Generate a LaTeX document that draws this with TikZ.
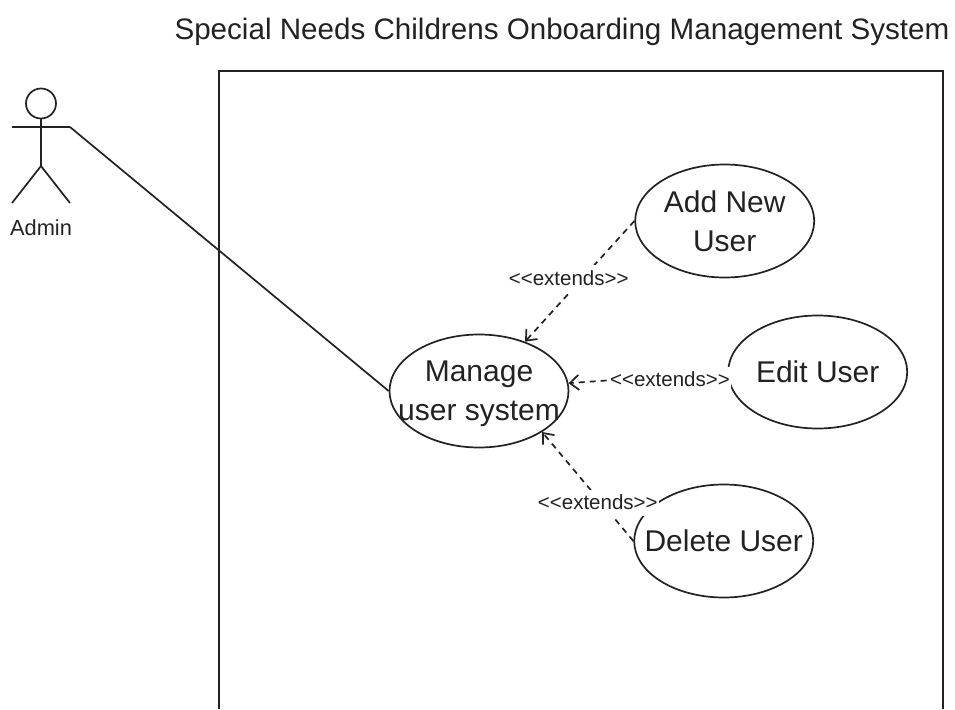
\documentclass[tikz,border=0pt]{standalone}
\usepackage{fontspec}
\setmainfont{Liberation Sans}
\usetikzlibrary{shapes.geometric, arrows.meta, positioning}
\definecolor{inkgrey}{HTML}{222222}

\begin{document}
\begin{tikzpicture}[
  x=1pt, y=-1pt,
  usecase/.style={ellipse, draw=inkgrey, line width=1.7pt, minimum width=179pt, minimum height=113pt, inner xsep=-30pt, inner ysep=0pt, text depth=0pt, font=\fontsize{30}{39}\selectfont, text=inkgrey, align=center},
  extlabel/.style={fill=white, inner sep=1pt, minimum height=26pt, font=\fontsize{20.5}{24}\selectfont, text=inkgrey},
  arrow/.style={-{Straight Barb[length=9pt, width=15pt]}, dash pattern=on 6pt off 5pt, line width=1.7pt, draw=inkgrey},
  actorline/.style={line width=1.7pt, draw=inkgrey}
]
  \useasboundingbox (0,0) rectangle (955,709);

  \node[font=\fontsize{29.6}{34}\selectfont, text=inkgrey] (title) at (562,32) {Special Needs Childrens Onboarding Management System};

  % system box, open at the bottom edge
  \coordinate (boxbl) at (219,709);
  \coordinate (boxtl) at (219,71);
  \coordinate (boxtr) at (943,71);
  \coordinate (boxbr) at (943,709);
  \draw[actorline] (boxbl) -- (boxtl) -- (boxtr) -- (boxbr);

  % actor
  \node[circle, actorline, draw, minimum size=30pt, inner sep=0pt] (head) at (41,103.5) {};
  \coordinate (armleft) at (12,127);
  \coordinate (armright) at (70,127);
  \coordinate (hip) at (41,166);
  \coordinate (footleft) at (12,203);
  \coordinate (footright) at (70,203);
  \draw[actorline] (head) -- (hip);
  \draw[actorline] (armleft) -- (armright);
  \draw[actorline] (footleft) -- (hip) -- (footright);
  \node[font=\fontsize{21.8}{25}\selectfont, text=inkgrey] (admin) at (41,228) {Admin};

  % use cases
  \node[usecase] (manage) at (479,391) {Manage\\user system};
  \node[usecase, right=65pt of manage, yshift=170pt] (addnew) {Add New\\User};
  \node[usecase, right=158pt of manage, yshift=19pt] (edit) {Edit User};
  \node[usecase, right=64pt of manage, yshift=-150pt] (delete) {Delete User};

  \draw[actorline] (armright) -- (manage.west);
  \draw[arrow] (addnew.west) -- node[extlabel, xshift=-11pt, yshift=3pt] (extadd) {<{}<extends>{}>} (manage.47);
  \draw[arrow] (edit.west) -- node[extlabel, xshift=22pt, yshift=-2pt] (extedit) {<{}<extends>{}>} (manage.5);
  \draw[arrow] (delete.west) -- node[extlabel, xshift=10pt, yshift=-16pt] (extdelete) {<{}<extends>{}>} (manage.-33);
\end{tikzpicture}
\end{document}
